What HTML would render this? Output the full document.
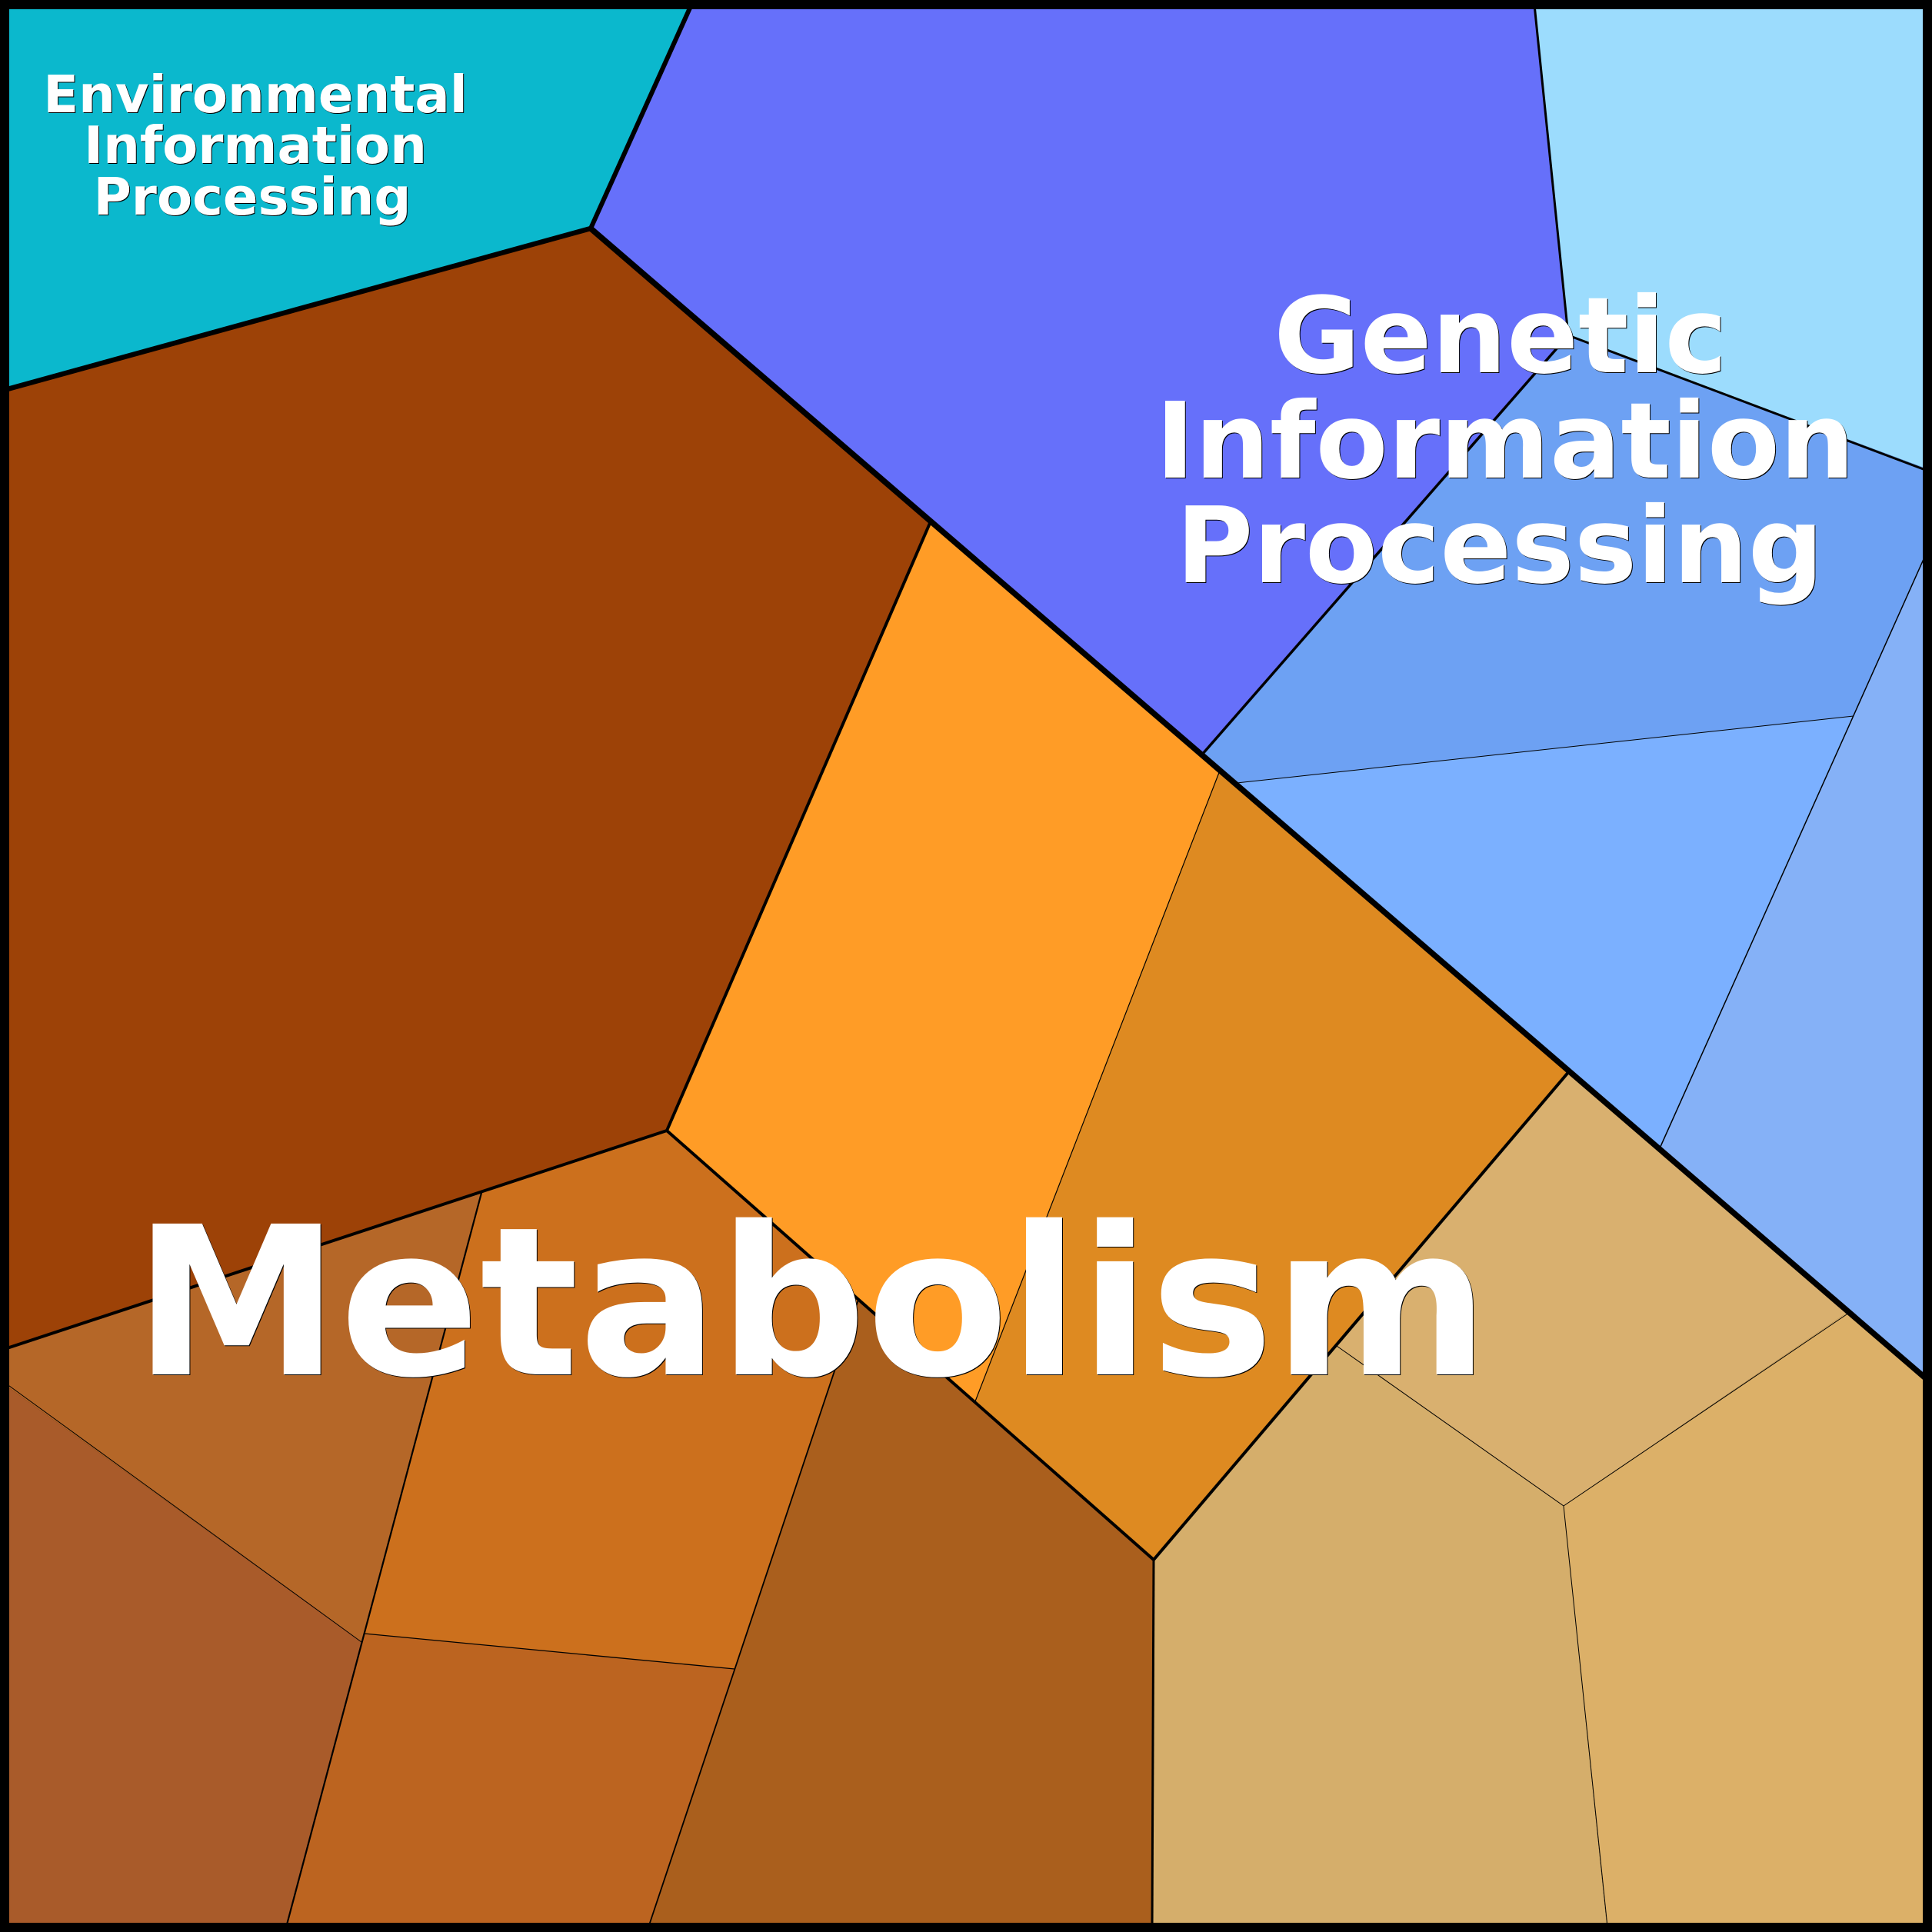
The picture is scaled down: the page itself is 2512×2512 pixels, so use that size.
<!DOCTYPE html>
<html>
<head>
<meta charset="utf-8">
<style>
html,body{margin:0;padding:0;background:#000;width:2512px;height:2512px;overflow:hidden}
svg{display:block}
text{font-family:"DejaVu Sans","Liberation Sans",sans-serif;font-weight:700;fill:#fff;text-anchor:middle}
.s{filter:drop-shadow(1px 1.5px 0 #000)}
</style>
</head>
<body>
<svg xmlns="http://www.w3.org/2000/svg" width="2512" height="2512" viewBox="0 0 2512 2512">
<g stroke="none">
<polygon fill="#0bb8cd" points="0,0 899,0 768,297 0,508"/>
<polygon fill="#6670fa" points="899,0 1995,0 2039,436 1563,981 768,297"/>
<polygon fill="#9cdcfd" points="1995,0 2512,0 2512,612 2039,436"/>
<polygon fill="#6da1f3" points="2039,436 2512,612 2512,700 2410,931 1608,1018 1563,981"/>
<polygon fill="#7bb0ff" points="1608,1018 2410,931 2158,1493"/>
<polygon fill="#85b1f7" points="2512,700 2512,1800 2158,1493"/>
<polygon fill="#9d4207" points="0,508 768,297 1210,678 867,1470 0,1755"/>
<polygon fill="#ff9c26" points="1210,678 1586,1001 1268,1822 867,1470"/>
<polygon fill="#de8a21" points="1586,1001 2041,1392 1500,2028 1268,1822"/>
<polygon fill="#d9b06f" points="2041,1392 2404,1705 2033,1958 1738,1750"/>
<polygon fill="#d5ae6b" points="1738,1750 2033,1958 2090,2512 1498,2512 1500,2028"/>
<polygon fill="#dcb068" points="2404,1705 2512,1798 2512,2512 2090,2512 2033,1958"/>
<polygon fill="#cc701d" points="626,1551 867,1470 1116,1690 955,2170 474,2124"/>
<polygon fill="#b56728" points="0,1755 626,1551 470,2135 0,1796"/>
<polygon fill="#a95b2a" points="0,1796 470,2135 370,2512 0,2512"/>
<polygon fill="#bc6420" points="474,2124 955,2170 841,2512 370,2512"/>
<polygon fill="#aa5f1d" points="1116,1690 1500,2028 1498,2512 841,2512 955,2170"/>
</g>
<g fill="none" stroke="#000" stroke-linecap="butt">
<line x1="2033" y1="1958" x2="2090" y2="2505" stroke-width="1"/>
<line x1="1738" y1="1750" x2="2033" y2="1958" stroke-width="1"/>
<line x1="2033" y1="1958" x2="2404" y2="1707" stroke-width="1"/>
<line x1="1608" y1="1018" x2="2410" y2="931" stroke-width="1"/>
<line x1="1586" y1="1002" x2="1268" y2="1822" stroke-width="1.2"/>
<line x1="2506" y1="716" x2="2158" y2="1493" stroke-width="1.5"/>
<line x1="8" y1="1799" x2="470" y2="2135" stroke-width="1"/>
<line x1="474" y1="2124" x2="955" y2="2170" stroke-width="1.3"/>
<line x1="626" y1="1551" x2="372" y2="2506" stroke-width="2.2"/>
<line x1="1116" y1="1690" x2="843" y2="2506" stroke-width="1.8"/>
<line x1="1995" y1="6" x2="2039" y2="436" stroke-width="3"/>
<line x1="2039" y1="436" x2="2506" y2="612" stroke-width="3"/>
<line x1="2039" y1="436" x2="1563" y2="981" stroke-width="3.5"/>
<line x1="1210" y1="678" x2="867" y2="1470" stroke-width="4"/>
<line x1="867" y1="1470" x2="1500" y2="2028" stroke-width="4"/>
<line x1="867" y1="1470" x2="6" y2="1754" stroke-width="4"/>
<line x1="2041" y1="1392" x2="1500" y2="2028" stroke-width="4"/>
<line x1="1500" y1="2028" x2="1498" y2="2506" stroke-width="3"/>
<line x1="899" y1="6" x2="768" y2="297" stroke-width="6"/>
<line x1="768" y1="297" x2="6" y2="507" stroke-width="6.5"/>
<line x1="768" y1="297" x2="2506" y2="1794" stroke-width="7.5"/>
<rect x="6" y="6" width="2500" height="2500" stroke-width="12"/>
</g>
<g class="s">
<text x="332" y="146" font-size="67.2">Environmental</text>
<text x="332" y="212" font-size="67.2">Information</text>
<text x="328" y="279" font-size="67.2">Processing</text>
<text x="1951" y="484" font-size="137">Genetic</text>
<text x="1957" y="621" font-size="137">Information</text>
<text x="1950" y="757" font-size="137">Processing</text>
<text x="1055" y="1787" font-size="269">Metabolism</text>
</g>
</svg>
</body>
</html>
